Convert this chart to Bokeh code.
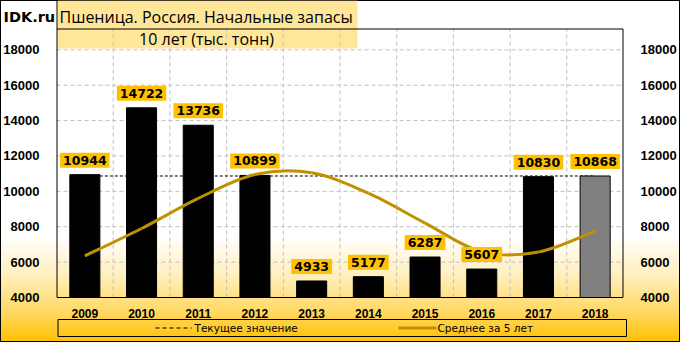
from bokeh.plotting import figure
from bokeh.models import FixedTicker, Range1d, LinearAxis, Label
from bokeh.core.properties import value
from bokeh.embed import file_html
from bokeh.resources import INLINE

# ---- data ----
years = ["2009", "2010", "2011", "2012", "2013", "2014", "2015", "2016", "2017", "2018"]
stocks = [10944, 14722, 13736, 10899, 4933, 5177, 6287, 5607, 10830, 10868]
avg5 = [6350, 7900, 9600, 10950, 11047, 9893, 8206, 6581, 6567, 7754]
current_value = 10868
y_ticks = [4000, 6000, 8000, 10000, 12000, 14000, 16000, 18000]
title_site = "IDK.ru"
title_main = "Пшеница. Россия. Начальные запасы"
title_sub = "10 лет (тыс. тонн)"
legend_current = "Текущее значение"
legend_avg = "Среднее за 5 лет"

# ---- geometry ----
W, H = 680, 342
FL, FR = 56, 623
Y_BASE_PX, Y_TOP_TICK_PX = 297.0, 49.3
n = len(years)
px_per_x = (FR - FL) / n
px_per_y = (Y_BASE_PX - Y_TOP_TICK_PX) / (y_ticks[-1] - y_ticks[0])
y_start = y_ticks[0] - (H - Y_BASE_PX) / px_per_y
y_end = y_ticks[-1] + Y_TOP_TICK_PX / px_per_y


def ydata(py):
    return y_ticks[0] + (Y_BASE_PX - py) / px_per_y


def xdata(px):
    return -0.5 + (px - FL) / px_per_x


xs = list(range(n))
GOLD = "#BF9000"
GRID = "#BFBFBF"
FONT = "DejaVu Sans"
AXFONT = "Liberation Sans"
x_lo, x_hi = -0.5, n - 0.5

p = figure(width=W, height=H, x_range=Range1d(xdata(0), xdata(W)), y_range=Range1d(y_start, y_end),
           output_backend="svg", toolbar_location=None,
           min_border_left=0, min_border_right=0, min_border_top=0, min_border_bottom=0)
p.border_fill_color = None
p.background_fill_color = None
p.outline_line_color = None
p.styles = {
    "background": "linear-gradient(180deg, #ffffff 0%, #ffffff 69%, #fff0c0 80%, #ffd966 91%, #ffc000 100%)",
    "outline": "1px solid #000000",
    "outline-offset": "-1px",
}

p.xgrid.visible = False
p.ygrid.visible = False

# title box (under grid lines)
p.quad(left=xdata(57), right=xdata(357), bottom=ydata(48), top=y_end,
       fill_color="#FFE699", line_color=None, level="underlay")

# horizontal grid lines
p.segment(x0=x_lo, x1=x_hi, y0=y_ticks[1:], y1=y_ticks[1:], line_color=GRID, line_dash="4 3", line_width=1)
# vertical grid lines between categories
p.segment(x0=[i + 0.5 for i in range(n - 1)], x1=[i + 0.5 for i in range(n - 1)],
          y0=y_ticks[0], y1=ydata(28.5), line_color=GRID, line_dash="4 3", line_width=1)

# plot frame
p.quad(left=xdata(56.5), right=xdata(622.5), bottom=y_ticks[0], top=ydata(28.5),
       fill_color=None, line_color="black", line_width=1)
p.segment(x0=[xdata(56.5)], x1=[xdata(56.5)], y0=ydata(28.5), y1=y_end, line_color="black")

# current value dashed line
p.line(x=[xs[0], xs[-1]], y=[current_value, current_value], line_color="black",
       line_dash="3 2", line_width=1)

# bars
bar_colors = ["black"] * (n - 1) + ["#808080"]
p.vbar(x=xs, top=stocks, bottom=y_ticks[0], width=0.53, fill_color=bar_colors, line_color="black")

# smooth 5-year-average line (Catmull-Rom as cubic Bezier)
bx0, by0, bx1, by1, c0x, c0y, c1x, c1y = [], [], [], [], [], [], [], []
for i in range(n - 1):
    xm, ym = xs[max(i - 1, 0)], avg5[max(i - 1, 0)]
    xa, ya = xs[i], avg5[i]
    xb, yb = xs[i + 1], avg5[i + 1]
    xp, yp = xs[min(i + 2, n - 1)], avg5[min(i + 2, n - 1)]
    bx0.append(xa); by0.append(ya); bx1.append(xb); by1.append(yb)
    c0x.append(xa + (xb - xm) / 6); c0y.append(ya + (yb - ym) / 6)
    c1x.append(xb - (xp - xa) / 6); c1y.append(yb - (yp - ya) / 6)
p.bezier(x0=bx0, y0=by0, x1=bx1, y1=by1, cx0=c0x, cy0=c0y, cx1=c1x, cy1=c1y,
         line_color=GOLD, line_width=3)

# value labels
p.text(x=xs, y=stocks, text=[str(v) for v in stocks], text_align="center", text_baseline="bottom",
       y_offset=-7, text_font=value(FONT), text_font_style="bold", text_font_size="12.5px",
       text_color="black", background_fill_color="#FFC000", padding=3)

# legend (manual)
ly = ydata(327.5)
p.quad(left=xdata(57.5), right=xdata(626), bottom=ydata(336), top=ydata(319),
       fill_color=None, line_color="black", line_width=1)
p.segment(x0=[xdata(155)], x1=[xdata(191)], y0=ly, y1=ly, line_color="black", line_dash="4 3")
p.segment(x0=[xdata(398)], x1=[xdata(436)], y0=ly, y1=ly, line_color=GOLD, line_width=3)
p.text(x=[xdata(194), xdata(437)], y=[ly, ly], text=[legend_current, legend_avg],
       text_align="left", text_baseline="middle", text_font=value(FONT), text_font_size="10.5px",
       text_color="black")

# titles
p.add_layout(Label(x=xdata(3), y=ydata(16), text=title_site, text_baseline="middle",
                   text_font=FONT, text_font_style="bold", text_font_size="14.5px", text_color="black"))
p.add_layout(Label(x=xdata(59), y=ydata(16), text=title_main, text_baseline="middle",
                   text_font="Open Sans", text_font_size="16px", text_color="black"))
p.add_layout(Label(x=xdata(206), y=ydata(38), text=title_sub, text_baseline="middle", text_align="center",
                   text_font="Open Sans", text_font_size="16px", text_color="black"))

# axes (fixed inside the frame)
p.xaxis.fixed_location = y_ticks[0]
p.xaxis.ticker = FixedTicker(ticks=xs)
p.xaxis.major_label_overrides = {i: y for i, y in enumerate(years)}

p.yaxis.fixed_location = x_lo
p.add_layout(LinearAxis(fixed_location=x_hi), "right")
for ax in p.yaxis:
    ax.ticker = FixedTicker(ticks=y_ticks)
    ax.major_label_standoff = 11
for ax in p.axis:
    ax.axis_line_color = None
    ax.major_tick_line_color = None
    ax.minor_tick_line_color = None
    ax.major_label_text_font = AXFONT
    ax.major_label_text_font_style = "bold"
    ax.major_label_text_font_size = "13px"
    ax.major_label_text_color = "black"
p.xaxis.major_label_text_font_size = "12px"
p.xaxis.major_label_standoff = 5

open("out.html", "w").write(file_html(p, INLINE))
